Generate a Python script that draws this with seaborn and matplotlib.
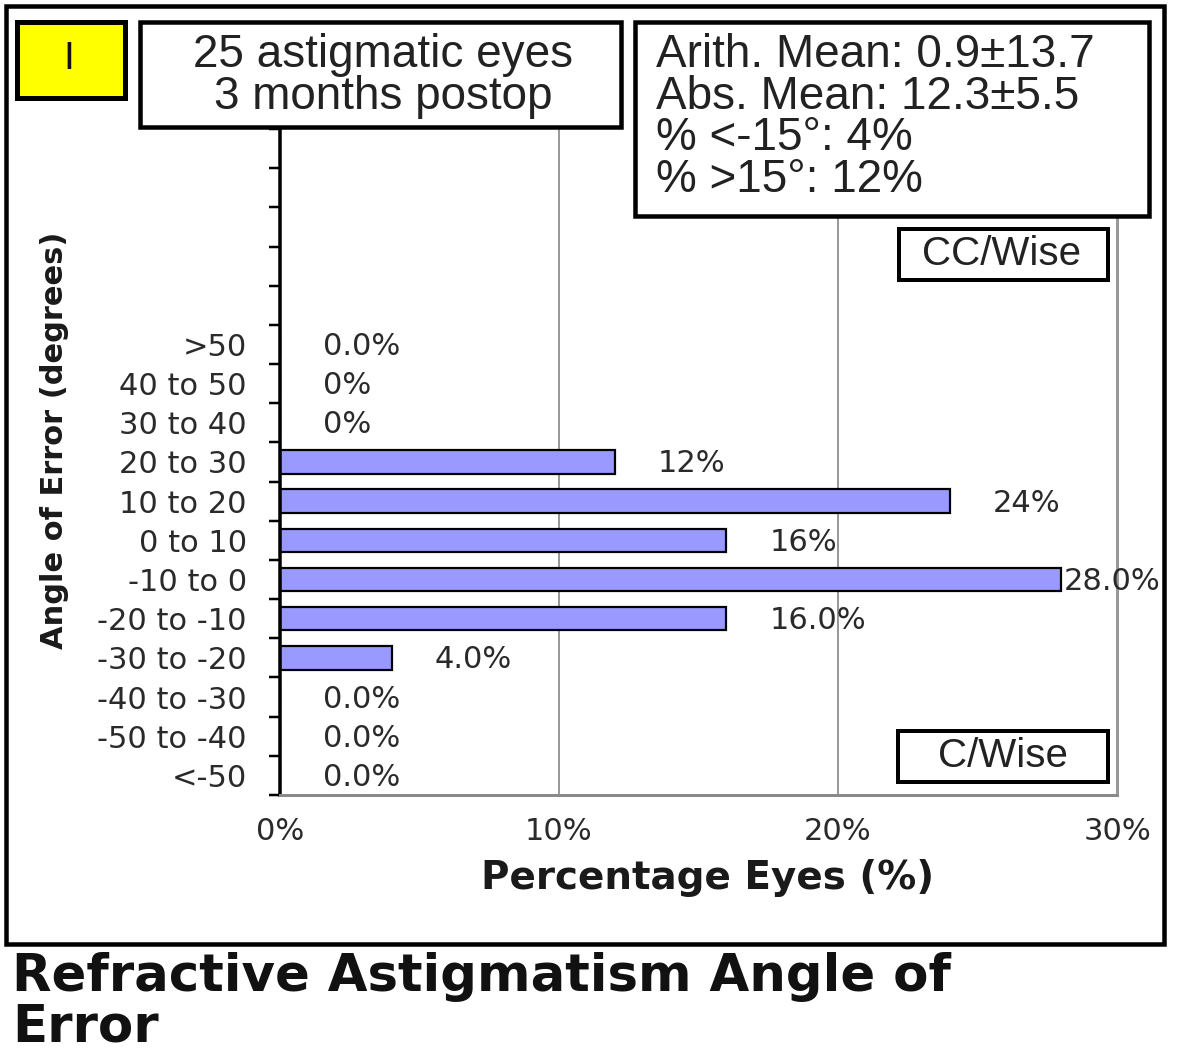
import numpy as np
import pandas as pd
import matplotlib
matplotlib.use("Agg")
import matplotlib.pyplot as plt
from matplotlib.patches import Rectangle
import seaborn as sns

# ---------------- data ----------------
categories = [">50", "40 to 50", "30 to 40", "20 to 30", "10 to 20", "0 to 10",
              "-10 to 0", "-20 to -10", "-30 to -20", "-40 to -30", "-50 to -40", "<-50"]
percent_eyes = [0, 0, 0, 12, 24, 16, 28, 16, 4, 0, 0, 0]
bar_labels = ["0.0%", "0%", "0%", "12%", "24%", "16%", "28.0%", "16.0%", "4.0%",
              "0.0%", "0.0%", "0.0%"]
x_ticks = [0, 10, 20, 30]
x_tick_labels = ["0%", "10%", "20%", "30%"]
panel_letter = "I"
title_lines = ["25 astigmatic eyes", "3 months postop"]
stats_lines = ["Arith. Mean: 0.9\u00b113.7", "Abs. Mean: 12.3\u00b15.5",
               "% <-15\u00b0: 4%", "% >15\u00b0: 12%"]
upper_tag = "CC/Wise"
lower_tag = "C/Wise"
x_label = "Percentage Eyes (%)"
y_label = "Angle of Error (degrees)"
chart_title = "Refractive Astigmatism Angle of\nError"

df = pd.DataFrame({"angle": categories, "pct": percent_eyes})

sns.set_theme(style="white")
plt.rcParams["font.family"] = ["DejaVu Sans"]

W, H = 1181, 1050
fig = plt.figure(figsize=(W / 100, H / 100), dpi=100)
fig.patch.set_facecolor("white")


def fx(x):
    return x / W


def fy(y):
    return 1 - y / H


def px(p):
    return p * 0.72


ax = fig.add_axes([fx(280), fy(795), fx(1117) - fx(280), (795 - 129) / H])

sns.barplot(data=df, x="pct", y="angle", orient="h", color="#9999FF",
            saturation=1, edgecolor="black", linewidth=px(2.2), width=0.6, ax=ax)

ax.set_xlim(0, 30)
ax.set_ylim(len(categories) - 0.5, -5.5)

# data labels
for i, (v, lab) in enumerate(zip(percent_eyes, bar_labels)):
    xl = v + 1.55 if v + 4.5 < 30 else v + 0.1
    ax.text(xl, i + 0.05, lab, ha="left", va="center", fontsize=22,
            color="#2a2a2a", clip_on=False)

# x axis
ax.set_xticks(x_ticks)
ax.set_xticklabels(x_tick_labels)
ax.tick_params(axis="x", length=0, pad=16, labelsize=22, labelcolor="#2a2a2a")
ax.xaxis.grid(True, color="#999999", linewidth=px(2))
ax.set_axisbelow(True)

# y axis
ax.set_yticks(range(len(categories)))
ax.set_yticklabels(categories)
ax.set_yticks(np.arange(-5.5, len(categories), 1.0), minor=True)
ax.tick_params(axis="y", which="major", length=0, pad=24, labelsize=22,
               labelcolor="#2a2a2a")
ax.tick_params(axis="y", which="minor", length=px(11), width=px(2.5),
               color="black", left=True)

ax.spines["top"].set_visible(False)
ax.spines["left"].set_color("black")
ax.spines["left"].set_linewidth(px(3.5))
ax.spines["bottom"].set_color("#8a8a8a")
ax.spines["bottom"].set_linewidth(px(3))
ax.spines["right"].set_color("#999999")
ax.spines["right"].set_linewidth(px(3))

ax.set_xlabel(x_label, fontsize=28, fontweight="bold", color="#1a1a1a")
ax.xaxis.set_label_coords((708 - 280) / 837, (795 - 878) / 666)
ax.xaxis.label.set_va("center")
ax.set_ylabel(y_label, fontsize=22, fontweight="bold", color="#1a1a1a")
ax.yaxis.set_label_coords((55 - 280) / 837, (795 - 440) / 666)
ax.yaxis.label.set_va("center")


def box(x0, y0, x1, y1, lw, face="white"):
    r = Rectangle((fx(x0), fy(y1)), fx(x1) - fx(x0), fy(y0) - fy(y1),
                  transform=fig.transFigure, facecolor=face, edgecolor="black",
                  linewidth=px(lw), zorder=5)
    fig.add_artist(r)


# outer frame
frame = Rectangle((fx(6), fy(944)), fx(1164) - fx(6), fy(6) - fy(944),
                  transform=fig.transFigure, facecolor="none", edgecolor="black",
                  linewidth=px(4.5), zorder=6)
fig.add_artist(frame)

box_font = ["Liberation Sans", "DejaVu Sans"]

# panel letter
box(17, 22, 125, 98, 5, face="#FFFF00")
fig.text(fx(69), fy(59), panel_letter, ha="center", va="center", fontsize=28,
         family=box_font, color="#111111", zorder=7)

# title box
box(140, 22, 621, 127, 4.5)
for k, line in enumerate(title_lines):
    fig.text(fx(383), fy(55 + 42 * k), line, ha="center", va="center",
             fontsize=33, family=box_font, color="#222222", zorder=7)

# stats box
box(635, 22, 1149, 216, 4.5)
for k, line in enumerate(stats_lines):
    fig.text(fx(656), fy(55 + 41.7 * k), line, ha="left", va="center",
             fontsize=33, family=box_font, color="#222222", zorder=7)

# CC/Wise and C/Wise tags
box(899, 229, 1108, 280, 4)
fig.text(fx(1002), fy(254), upper_tag, ha="center", va="center", fontsize=29,
         family=box_font, color="#222222", zorder=7)
box(898, 731, 1108, 782, 4)
fig.text(fx(1003), fy(756), lower_tag, ha="center", va="center", fontsize=29,
         family=box_font, color="#222222", zorder=7)

# chart title
fig.text(fx(12), fy(952), chart_title, ha="left", va="top", fontsize=37,
         fontweight="bold", color="#111111", linespacing=1.0)

fig.savefig("out.png", dpi=100, facecolor="white")
